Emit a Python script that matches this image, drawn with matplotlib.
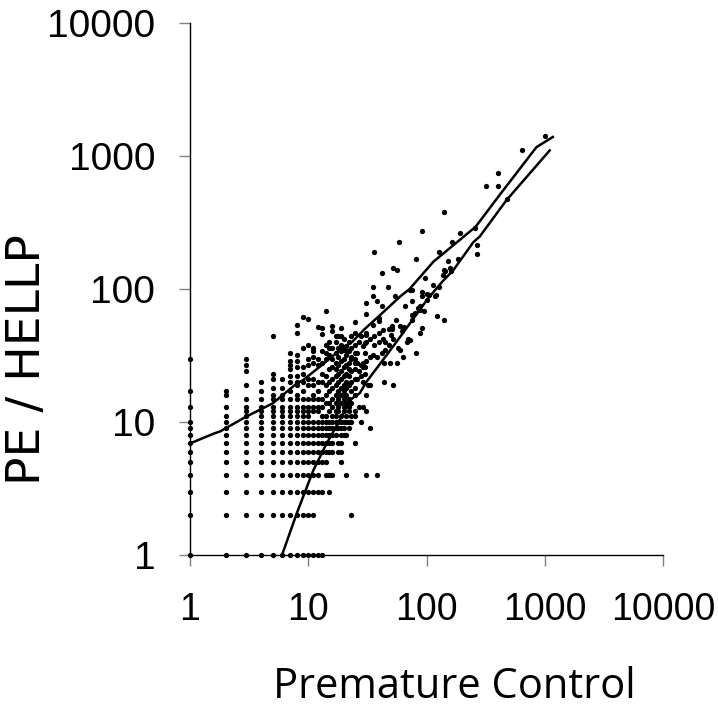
import numpy as np
import matplotlib
matplotlib.use("Agg")
import matplotlib.pyplot as plt
from matplotlib.ticker import FixedLocator, NullLocator

# counts for the low, discrete part of the cloud: one list of y values per x column
low_cols = [1, 2, 3, 4, 5, 6, 7, 8, 9, 10, 11, 12, 13, 14, 15, 16, 17, 18, 19, 20, 21, 22, 23, 25]
low_ys = [
    [1, 2, 3, 4, 5, 6, 7, 8, 9, 10, 13, 17, 30],
    [1, 2, 3, 4, 5, 6, 7, 8, 9, 10, 11, 13, 16, 17],
    [1, 2, 3, 4, 5, 6, 7, 8, 9, 10, 11, 12, 13, 15, 19, 24, 27, 30],
    [1, 2, 3, 4, 5, 6, 7, 8, 9, 10, 11, 12, 13, 15, 17, 20],
    [1, 2, 3, 4, 5, 6, 7, 8, 9, 10, 11, 12, 13, 15, 16, 18, 21, 23, 44],
    [1, 2, 3, 4, 5, 6, 7, 8, 9, 10, 11, 12, 13, 15, 16, 18, 21],
    [1, 2, 3, 4, 5, 6, 7, 8, 9, 10, 11, 12, 13, 15, 17, 20, 22, 25, 27, 29, 33],
    [1, 2, 3, 4, 5, 6, 7, 8, 9, 10, 11, 12, 13, 15, 16, 19, 20, 22, 26, 29, 32, 47, 54],
    [1, 2, 3, 4, 5, 6, 7, 8, 9, 10, 11, 12, 13, 15, 17, 20, 23, 26, 36, 62],
    [1, 2, 3, 4, 5, 6, 7, 8, 9, 10, 11, 12, 13, 15, 19, 21, 27, 30, 38, 60],
    [1, 2, 3, 4, 5, 6, 7, 8, 9, 10, 12, 13, 15, 16, 19, 21, 28, 31, 36, 34],
    [1, 3, 4, 5, 6, 7, 8, 9, 10, 12, 13, 15, 17, 20, 27, 30, 52],
    [1, 3, 5, 6, 7, 8, 9, 10, 11, 13, 15, 20, 23, 28, 34, 46, 51],
    [4, 5, 6, 7, 8, 9, 10, 11, 14, 16, 19, 22, 30, 33, 38, 68],
    [3, 4, 6, 7, 8, 9, 10, 12, 14, 17, 20, 25, 32, 36, 40],
    [4, 6, 7, 8, 9, 10, 11, 13, 15, 18, 21, 26, 30, 36, 48, 53],
    [8, 9, 10, 11, 12, 14, 16, 19, 22, 25, 28, 33, 40, 44],
    [6, 7, 9, 10, 12, 13, 15, 17, 20, 23, 27, 31, 36, 44],
    [5, 6, 7, 8, 9, 10, 11, 14, 16, 18, 21, 24, 29, 34, 38, 44, 51],
    [8, 9, 10, 12, 13, 15, 17, 19, 22, 26, 30, 35, 42],
    [4, 8, 10, 11, 14, 16, 18, 20, 23, 27, 32, 35, 37],
    [9, 10, 12, 13, 15, 19, 22, 25, 28, 34, 40],
    [2, 10, 11, 14, 17, 20, 24, 30, 31, 36, 44],
    [7, 11, 12, 16, 18, 21, 25, 28, 30, 33, 38, 47, 56],
]

# the rest of the cloud, read point by point
mid_x = [26, 26, 26, 27, 27, 27, 28, 28, 28, 28, 29, 29, 29, 29, 29, 30, 30, 30, 30,
         31, 31, 31, 31, 31, 31, 31, 31, 31, 32, 33, 33, 33, 33, 35, 35, 35, 35, 36, 36,
         36, 38, 38, 38, 40, 40, 40, 40, 42, 42, 42, 43, 43, 44, 44, 45, 45, 47, 48, 48,
         49, 50, 51, 51, 52, 52, 52, 54, 55, 56, 56, 57, 58, 60, 60, 62, 63, 65, 66, 68,
         70, 72, 73, 75, 76, 76, 76, 80, 81, 81, 85, 88, 88, 88, 91, 91, 91, 92, 95, 98,
         100, 100, 105, 114, 117, 120, 123, 127, 127, 137, 141, 141, 141]
mid_y = [28, 21, 33, 24, 40, 13, 10, 27, 44, 22, 20, 28, 26, 37, 13, 23, 26, 33, 39,
         29, 40, 45, 47, 65, 78, 12, 16, 4, 19, 9, 31, 42, 19, 32, 54, 88, 104, 44, 38,
         191, 31, 81, 4, 40, 47, 57, 61, 33, 75, 133, 42, 49, 28, 20, 40, 35, 104, 50, 38,
         28, 45, 53, 50, 143, 19, 42, 88, 58, 28, 139, 36, 224, 53, 35, 48, 31, 52, 74, 40,
         42, 41, 99, 58, 64, 81, 99, 66, 33, 168, 72, 47, 70, 74, 51, 88, 95, 274, 68, 122,
         82, 92, 90, 107, 88, 90, 63, 103, 190, 127, 58, 138, 381]

high_x = [143, 152, 158, 160, 165, 185, 191, 255, 265, 265, 320, 399, 399, 482, 644, 1000]
high_y = [137, 161, 143, 137, 224, 169, 265, 287, 215, 183, 598, 741, 598, 472, 1109, 1413]

# the two fitted curves
upper_x = [1, 1.6, 1.8, 3, 5, 8, 9, 12.5, 18.5, 23.5, 30, 40, 60, 72, 114, 250, 265, 416, 850, 1170]
upper_y = [6.9, 8.2, 8.5, 11, 13.8, 19.5, 20.6, 26, 34.7, 40, 50, 63, 88, 100, 160, 285, 300, 510, 1165, 1390]
lower_x = [6, 8, 11, 14.3, 17.9, 22.5, 27.3, 31, 40, 55.7, 88, 103, 139, 168, 249, 282, 474, 1100]
lower_y = [1, 2.06, 4.3, 6.9, 9.8, 14.6, 16.5, 20, 27, 40, 70, 85, 116, 138, 225, 248, 465, 1100]

tick_vals = [1, 10, 100, 1000, 10000]
tick_text = ["1", "10", "100", "1000", "10000"]

px = []
py = []
for c, ys in zip(low_cols, low_ys):
    px += [c] * len(ys)
    py += ys
px += mid_x + high_x
py += mid_y + high_y

sans = ["Liberation Sans", "DejaVu Sans"]

fig = plt.figure(figsize=(7.18, 7.26), dpi=100)
ax = fig.add_axes([190 / 718, 1 - 555 / 726, (663 - 190) / 718, (555 - 23) / 726])
ax.set_xscale("log")
ax.set_yscale("log")

ax.plot(px, py, "o", ms=3.8, mew=0, color="black", clip_on=False, zorder=3)
ax.plot(upper_x, upper_y, color="black", lw=1.8, zorder=4)
ax.plot(lower_x, lower_y, color="black", lw=1.8, zorder=4)

ax.set_xlim(1, 10000)
ax.set_ylim(1, 10000)
for a in (ax.xaxis, ax.yaxis):
    a.set_major_locator(FixedLocator(tick_vals))
    a.set_minor_locator(NullLocator())
ax.set_xticklabels(tick_text, fontsize=27, family=sans)
ax.set_yticklabels(tick_text, fontsize=28, family=sans)
ax.tick_params(axis="x", length=8, width=1, color="#808080", pad=19)
ax.tick_params(axis="y", length=8, width=1, color="#808080", pad=17)

for s in ("top", "right"):
    ax.spines[s].set_visible(False)
for s in ("left", "bottom"):
    ax.spines[s].set_linewidth(1)
    ax.spines[s].set_color("black")

fig.text(454 / 718, 1 - 698 / 726, "Premature Control", fontsize=30, family=["Open Sans", "DejaVu Sans"],
         ha="center", va="baseline")
fig.text(28 / 718, 1 - 360 / 726, "PE / HELLP", fontsize=34, family=["DejaVu Sans"],
         rotation=90, ha="center", va="center")

fig.savefig("out.png", dpi=100)
